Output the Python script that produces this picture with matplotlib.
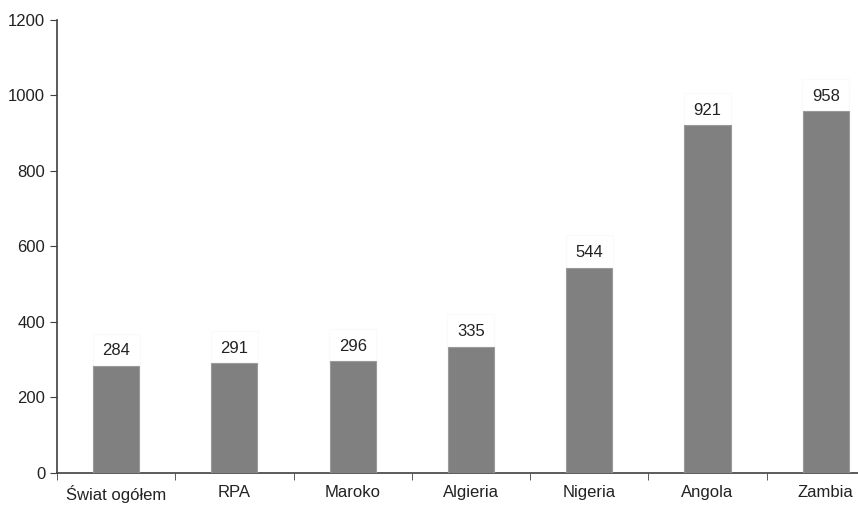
import matplotlib
matplotlib.use('Agg')
from matplotlib import pyplot as plt

plt.rcParams['font.family'] = ['Liberation Sans', 'DejaVu Sans']

countries = ['Świat ogółem', 'RPA', 'Maroko', 'Algieria', 'Nigeria', 'Angola', 'Zambia']
values = [284, 291, 296, 335, 544, 921, 958]

fig = plt.figure(figsize=(8.58, 5.05), dpi=100)
ax = fig.add_axes([0.0664, 0.0634, 0.965, 0.897])

x = range(len(countries))
ax.bar(x, values, width=0.39, color='#808080', edgecolor='#9a9a9a', linewidth=0.8, zorder=3)

for i, v in zip(x, values):
    ax.text(i, v + 20, str(v), ha='center', va='bottom', fontsize=12, color='#222222',
            bbox=dict(facecolor='white', edgecolor='#fafafa', pad=7), zorder=2)

ax.set_xlim(-0.5, len(countries) - 0.5)
ax.set_ylim(0, 1200)
ax.set_yticks(range(0, 1201, 200))

ax.set_xticks([i + 0.5 for i in range(-1, len(countries))], minor=True)
ax.set_xticks(list(x))
ax.set_xticklabels(countries, fontsize=12, color='#222222')
ax.tick_params(axis='x', which='major', length=0, pad=9)
ax.tick_params(axis='x', which='minor', length=5, color='#404040', direction='out')
ax.tick_params(axis='y', length=5, color='#404040', labelsize=12, labelcolor='#222222')

for s in ['top', 'right']:
    ax.spines[s].set_visible(False)
for s in ['left', 'bottom']:
    ax.spines[s].set_color('#404040')
    ax.spines[s].set_linewidth(1.2)

fig.savefig('out.png', dpi=100)
